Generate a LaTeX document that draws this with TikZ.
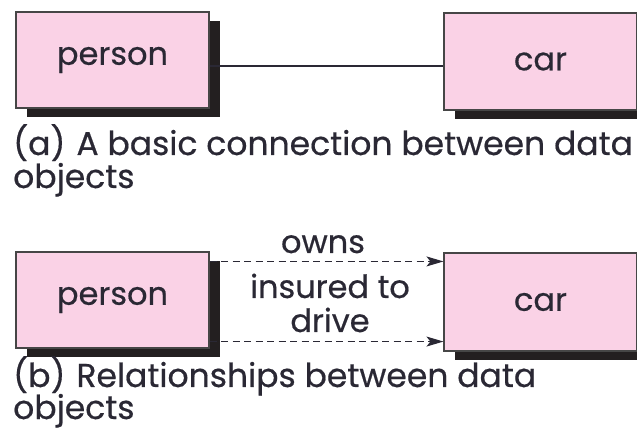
\documentclass[tikz,border=0pt]{standalone}
\usepackage{fontspec}
\setmainfont{Poppins}[FakeBold=0.5]
\usetikzlibrary{shadows,arrows.meta}
\definecolor{boxpink}{RGB}{250,210,230}
\definecolor{boxline}{RGB}{70,70,70}
\definecolor{shadowc}{RGB}{35,31,32}
\definecolor{textc}{RGB}{42,40,52}
\tikzset{
  entity/.style={draw=boxline, line width=1.1pt, fill=boxpink, minimum width=193pt,
    inner sep=0pt, text=textc, font=\fontsize{32}{36}\selectfont,
    drop shadow={shadow xshift=11pt, shadow yshift=-9pt, fill=shadowc, opacity=1}},
  rel/.style={line width=1.2pt, draw=textc},
  relarrow/.style={rel, dash pattern=on 7pt off 4.5pt, -{Stealth[length=17pt,width=10pt,inset=4pt]}},
  lbl/.style={anchor=base, inner sep=0pt, text=textc, font=\fontsize{32}{36}\selectfont},
  captext/.style={anchor=base west, inner sep=0pt, text=textc, font=\fontsize{33}{36}\selectfont}
}
\begin{document}
\begin{tikzpicture}[x=1pt,y=-1pt]
\useasboundingbox (0,0) rectangle (637,435);
\clip (0,0) rectangle (637,435);
\fill[white] (0,0) rectangle (637,435);
% (a)
\node[entity, minimum height=96pt] (pa) at (112.5,60) {person};
\node[entity, minimum height=97pt] (ca) at (540.5,61.5) {car};
\draw[rel] ([yshift=-6pt]pa.east) -- ([yshift=-6pt]pa.east -| ca.west);
\node[captext] (capa) at (13,155) {(a)\hspace{11pt}A basic connection between data};
\node[captext] (capa2) at (13,188) {objects};
% (b)
\node[entity, minimum height=96pt] (pb) at (112.5,300) {person};
\node[entity, minimum height=98pt] (cb) at (540.5,302) {car};
\draw[relarrow] ([yshift=-10pt]pb.north east) -- ([yshift=-10pt]pb.north east -| cb.west);
\draw[relarrow] ([yshift=7pt]pb.south east) -- ([yshift=7pt]pb.south east -| cb.west);
\node[lbl] (owns) at (323,253) {owns};
\node[lbl] (ins) at (330,298) {insured to};
\node[lbl] (drv) at (330,332) {drive};
\node[captext] (capb) at (13,387) {(b)\hspace{11pt}Relationships between data};
\node[captext] (capb2) at (13,419) {objects};
\end{tikzpicture}
\end{document}
